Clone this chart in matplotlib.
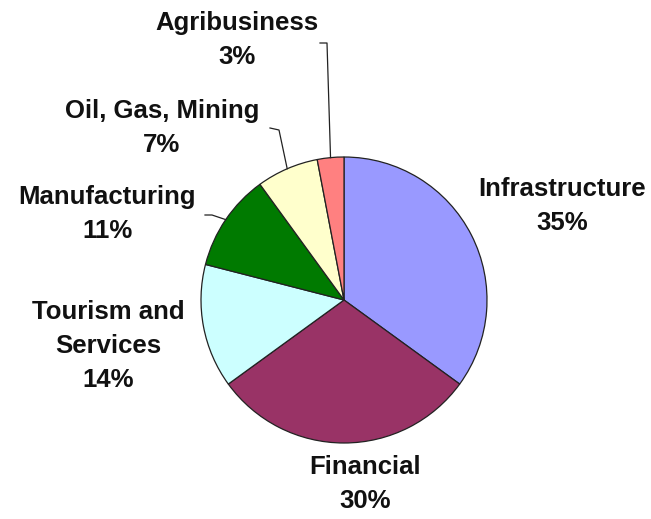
import numpy as np
import matplotlib
matplotlib.use("Agg")
import matplotlib.pyplot as plt

categories = ["Infrastructure", "Financial", "Tourism and\nServices", "Manufacturing",
              "Oil, Gas, Mining", "Agribusiness"]
values = [35, 30, 14, 11, 7, 3]
colors = ["#9999FF", "#993366", "#CCFFFF", "#007A00", "#FFFFCC", "#FF8080"]

W, H = 651, 519
fig = plt.figure(figsize=(W / 100, H / 100), dpi=100)
cx, cy, R = 344, 300, 143
ax = fig.add_axes([(cx - R) / W, (H - cy - R) / H, 2 * R / W, 2 * R / H])
ax.set_xlim(-1, 1)
ax.set_ylim(-1, 1)
ax.set_aspect("equal")
ax.axis("off")

wedges, _ = ax.pie(values, colors=colors, startangle=90, counterclock=False, radius=1,
                   wedgeprops=dict(edgecolor="#222222", linewidth=0.9))
ax.set_xlim(-1, 1)
ax.set_ylim(-1, 1)

def d(px, py):
    return (px - cx) / R, (cy - py) / R

font = dict(family=["Liberation Sans", "DejaVu Sans"], fontweight="bold", fontsize=18.5,
            color="#111111", ha="center", va="center", linespacing=1.55)

total = sum(values)
labels_pos = {
    0: (562, 206),
    1: (365, 484),
    2: (108, 346),
    3: (107, 214),
    4: (162, 128),
    5: (237, 40),
}
for i, (cat, v) in enumerate(zip(categories, values)):
    x, y = d(*labels_pos[i])
    ax.text(x, y, f"{cat}\n{v}%", clip_on=False, **font)

# leader lines
def mid_angle(i):
    start = 90 - 360 * sum(values[:i]) / total
    end = start - 360 * values[i] / total
    return np.deg2rad((start + end) / 2)

leaders = {5: [(327, 43), (320, 43)], 4: [(279, 130), (270, 128)], 3: [(212, 215), (205, 215)]}
for i, pts in leaders.items():
    a = mid_angle(i)
    xs = [np.cos(a)] + [d(*p)[0] for p in pts]
    ys = [np.sin(a)] + [d(*p)[1] for p in pts]
    ax.plot(xs, ys, color="#222222", lw=0.9, clip_on=False)

fig.savefig("out.png", dpi=100, facecolor="white")
